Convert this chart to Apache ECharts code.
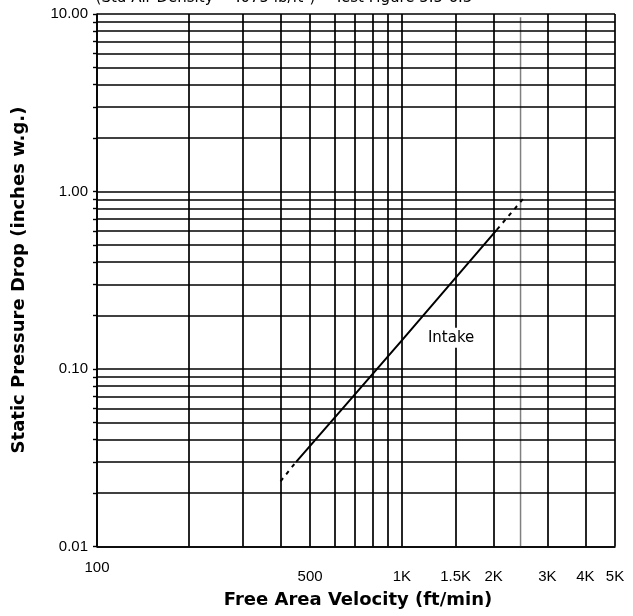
<!DOCTYPE html>
<html><head><meta charset="utf-8">
<script src="https://cdn.jsdelivr.net/npm/echarts@6/dist/echarts.min.js"></script>
<style>html,body{margin:0;padding:0;background:#fff}#c{width:633px;height:616px}</style>
</head><body><div id="c"></div>
<script>
// Gridline values (x: ft/min, y: inches w.g.)
const xGridValues = [100,200,300,400,500,600,700,800,900,1000,1500,2000,3000,4000,5000];
const yGridValues = [0.01,0.02,0.03,0.04,0.05,0.06,0.07,0.08,0.09,0.1,0.2,0.3,0.4,0.5,0.6,0.7,0.8,0.9,1,2,3,4,5,6,7,8,9,10];
// Tick labels
const xTickValues = [100,500,1000,1500,2000,3000,4000,5000];
const xTickLabels = ['100','500','1K','1.5K','2K','3K','4K','5K'];
const yTickValues = [0.01,0.1,1,10];
const yTickLabels = ['0.01','0.10','1.00','10.00'];
// Intake curve
const intakeSolid = [[450,0.030],[1000,0.145],[2050,0.61]];
const intakeLowExt = [[400,0.0233],[450,0.030]];
const intakeHighExt = [[2050,0.61],[2500,0.91]];
// Grey vertical limit line
const limitLine = [[2450,0.01],[2450,9.6]];
const intakeLabelPos = [1450,0.15];

const chart = echarts.init(document.getElementById('c'), null, {renderer:'canvas'});
const black = '#000';
const gridData = [];
xGridValues.forEach(v => {
  const i = xTickValues.indexOf(v);
  gridData.push({xAxis:v, label: i>=0 ? {show:true, formatter: xTickLabels[i], distance: (v===100 ? 14 : 23)} : {show:false}});
});
yGridValues.forEach(v => {
  const i = yTickValues.indexOf(v);
  gridData.push({yAxis:v, label: i>=0 ? {show:true, formatter: yTickLabels[i], distance: 9} : {show:false}});
});

chart.setOption({
  animation:false,
  backgroundColor:'#fff',
  grid:{left:97, top:14, width:518, height:532.5, containLabel:false},
  xAxis:{type:'log', logBase:10, min:100, max:5000,
    axisLine:{show:true, onZero:false, lineStyle:{color:black, width:1.6}},
    axisTick:{show:false}, axisLabel:{show:false}, splitLine:{show:false}, minorSplitLine:{show:false}},
  yAxis:{type:'log', logBase:10, min:0.01, max:10,
    axisLine:{show:true, onZero:false, lineStyle:{color:black, width:1.6}},
    axisTick:{show:true, inside:false, length:4, customValues:yGridValues, lineStyle:{color:black, width:1.4}},
    axisLabel:{show:false}, splitLine:{show:false}},
  graphic:[
    {type:'text', style:{text:'(Std Air Density = .075 lb/ft³)    Test Figure 5.5-6.3', x:284, y:-2, textAlign:'center', textVerticalAlign:'middle', font:'15px "DejaVu Sans"', fill:'#000'}},
    {type:'text', style:{text:'Free Area Velocity (ft/min)', x:358, y:600, textAlign:'center', textVerticalAlign:'middle', font:'bold 18px "DejaVu Sans"', fill:'#000'}},
    {type:'text', x:19, y:280, rotation:Math.PI/2, style:{text:'Static Pressure Drop (inches w.g.)', x:0, y:0, textAlign:'center', textVerticalAlign:'middle', font:'bold 18px "DejaVu Sans"', fill:'#000'}}
  ],
  series:[
    {type:'line', data:[], z:1, silent:true,
      markLine:{silent:true, symbol:['none','none'], animation:false,
        lineStyle:{color:black, width:1.7, type:'solid'},
        label:{position:'start', color:'#000', fontFamily:'Liberation Sans', fontSize:15},
        emphasis:{disabled:true},
        data:gridData}},
    {type:'line', data:limitLine, z:2, symbol:'none', silent:true, lineStyle:{color:'#808080', width:1.5}},
    {type:'line', data:intakeLowExt, z:3, symbol:'none', lineStyle:{color:black, width:2, type:[4,5]}},
    {type:'line', data:intakeHighExt, z:3, symbol:'none', lineStyle:{color:black, width:2, type:[4,5]}},
    {type:'line', data:intakeSolid, z:3, symbol:'none', lineStyle:{color:black, width:2},
      markPoint:{silent:true, symbol:'rect', symbolSize:[54,20], itemStyle:{color:'#fff'},
        label:{show:true, position:'inside', formatter:'Intake', color:'#000', fontFamily:'DejaVu Sans', fontSize:15},
        data:[{coord:intakeLabelPos}]}}
  ]
});
</script></body></html>
